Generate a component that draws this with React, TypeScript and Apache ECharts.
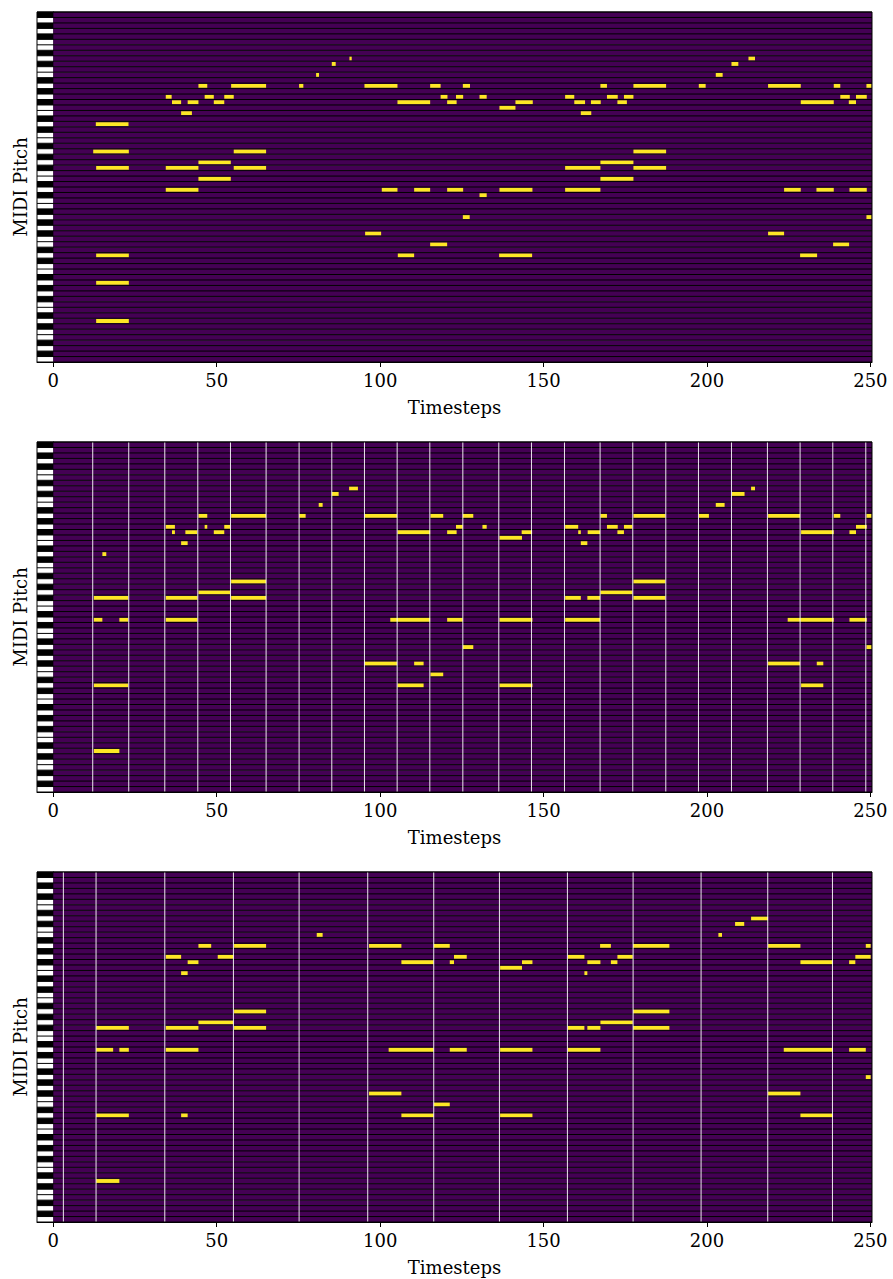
import React, { useEffect, useRef } from "react";
import * as echarts from "echarts";

// ---------- data ----------
const PITCH_LOW = 31;
const PITCH_HIGH = 94;
const X_MIN = -5;
const X_MAX = 250.5;
const X_TICKS = [0, 50, 100, 150, 200, 250];
const BLACK_PITCH_CLASSES = [1, 3, 6, 8, 10];

// [start, end, midiPitch]
const notesOriginal: number[][] = [
  [13, 23, 74], [12.2, 23.1, 69], [13.1, 23.1, 66], [13.1, 23.1, 50], [13.1, 23.1, 45], [13.1, 23.1, 38],
  [34.4, 36.2, 79], [36.3, 39.1, 78], [39.1, 42.4, 76], [41.1, 44.4, 78], [44.4, 47.1, 81], [46.3, 49.1, 79],
  [49.1, 52.3, 78], [52.3, 55.2, 79], [54.4, 65.1, 81], [34.4, 44.4, 66], [34.4, 44.4, 62], [44.4, 54.3, 67],
  [44.4, 54.3, 64], [55.2, 65.1, 69], [55.2, 65.1, 66],
  [75.2, 76.5, 81], [80.4, 81.3, 83], [85.2, 86.4, 85], [90.6, 91.3, 86],
  [95.2, 105.3, 81], [95.4, 100.3, 54], [100.5, 105.3, 62], [105.3, 115.3, 78], [105.4, 110.4, 50],
  [110.4, 115.3, 62], [115.3, 118.5, 81], [115.3, 120.5, 52], [118.5, 120.6, 79], [120.5, 123.4, 78],
  [120.5, 125.4, 62], [123.2, 125.4, 79], [125.3, 127.5, 81], [125.3, 127.4, 57], [130.4, 132.6, 79],
  [130.4, 132.6, 61], [136.5, 141.4, 77], [141.4, 146.7, 78], [136.5, 146.6, 62], [136.4, 146.5, 50],
  [156.6, 159.4, 79], [159.4, 162.7, 78], [161.4, 164.6, 76], [164.5, 167.5, 78], [167.4, 169.4, 81],
  [169.4, 172.7, 79], [172.6, 175.5, 78], [174.6, 177.5, 79], [177.5, 187.5, 81], [156.6, 167.4, 66],
  [156.6, 167.4, 62], [167.4, 177.5, 67], [167.4, 177.5, 64], [177.5, 187.5, 69], [177.5, 187.5, 66],
  [197.5, 199.6, 81], [202.7, 204.8, 83], [207.5, 209.6, 85], [212.7, 214.7, 86],
  [218.7, 228.7, 81], [218.7, 223.6, 54], [223.6, 228.7, 62], [228.7, 238.8, 78], [228.5, 233.7, 50],
  [233.5, 238.8, 62], [238.8, 240.8, 81], [238.6, 243.5, 52], [240.8, 243.7, 79], [243.4, 245.6, 78],
  [243.6, 248.9, 62], [245.6, 248.9, 79], [248.8, 250.4, 81], [248.8, 250.4, 57],
];

const notesSecond: number[][] = [
  [15, 16.2, 74], [12.4, 22.9, 66], [12.4, 15, 62], [20.2, 22.9, 62], [12.4, 22.9, 50], [12.4, 20.2, 38],
  [34.4, 37.2, 79], [36.3, 37.2, 78], [39.1, 41.1, 76], [40.4, 44, 78], [44.4, 47.1, 81], [46.3, 47.1, 79],
  [49.1, 52.3, 78], [52.3, 54.1, 79], [54.4, 65.1, 81], [54.4, 65.1, 69], [44.4, 54.1, 67], [34.4, 44.1, 66],
  [54.4, 65.1, 66], [34.4, 44.1, 62],
  [75.2, 77.2, 81], [81.2, 82.4, 83], [85.2, 87.3, 85], [90.5, 93.2, 86],
  [95.2, 105.2, 81], [115.4, 119.3, 81], [125.3, 128.5, 81], [123.2, 125.3, 79], [131.3, 132.6, 79],
  [156.6, 160.6, 79], [105.3, 115.3, 78], [120.5, 123.4, 78], [143.3, 146.5, 78], [136.5, 143.4, 77],
  [103.1, 115.3, 62], [120.5, 125.3, 62], [136.5, 146.6, 62], [125.3, 128.5, 57], [95.2, 105.2, 54],
  [110.4, 113.3, 54], [115.4, 119.3, 52], [105.3, 113.3, 50], [136.5, 146.6, 50],
  [213.5, 214.7, 86], [207.6, 211.5, 85], [202.7, 205.4, 83], [167.4, 169.4, 81], [177.5, 187.3, 81],
  [197.5, 200.6, 81], [218.7, 228.5, 81], [238.8, 240.8, 81], [248.8, 250.4, 81], [169.4, 172.7, 79],
  [174.6, 177.2, 79], [245.6, 248.9, 79], [160.6, 161.4, 78], [163.5, 167.3, 78], [172.6, 174.6, 78],
  [228.8, 238.8, 78], [243.6, 245.6, 78], [161.4, 163.4, 76], [177.5, 187.3, 69], [167.4, 177.2, 67],
  [156.6, 161.4, 66], [163.4, 167.3, 66], [177.5, 187.3, 66], [156.6, 167.3, 62], [224.7, 228.5, 62],
  [228.5, 238.8, 62], [243.6, 248.9, 62], [248.8, 250.4, 57], [218.7, 228.5, 54], [233.6, 235.6, 54],
  [228.8, 235.6, 50],
];

const notesThird: number[][] = [
  [13.1, 23.1, 66], [13.1, 18.3, 62], [20.2, 23.1, 62], [13.1, 23.1, 50], [39.1, 41.1, 50], [13.1, 20.2, 38],
  [44.4, 48.3, 81], [55.3, 65.1, 81], [34.4, 39.1, 79], [50.3, 55.1, 79], [41.1, 44.4, 78], [39.1, 41.1, 76],
  [55.3, 65.1, 69], [44.4, 55.1, 67], [34.4, 44.4, 66], [55.3, 65.1, 66], [34.4, 44.4, 62],
  [213.5, 218.7, 86], [208.6, 211.4, 85], [80.6, 82.4, 83], [203.5, 204.6, 83],
  [96.6, 106.5, 81], [116.4, 121.3, 81], [167.3, 170.6, 81], [177.4, 188.5, 81], [218.7, 228.6, 81],
  [248.6, 250.1, 81], [122.6, 126.5, 79], [157.4, 162.5, 79], [172.6, 177.3, 79], [245.4, 250.1, 79],
  [106.5, 116.4, 78], [121.3, 122.6, 78], [143.4, 146.6, 78], [163.4, 167.4, 78], [170.6, 172.6, 78],
  [228.6, 238.5, 78], [243.5, 245.4, 78], [136.7, 143.4, 77], [162.5, 163.4, 76], [177.4, 188.5, 69],
  [167.4, 177.3, 67], [157.4, 162.5, 66], [163.4, 167.4, 66], [177.4, 188.5, 66], [102.6, 116.4, 62],
  [121.3, 126.5, 62], [136.7, 146.6, 62], [157.4, 167.4, 62], [223.5, 238.5, 62], [243.5, 248.6, 62],
  [248.6, 250.1, 57], [96.6, 106.5, 54], [218.7, 228.6, 54], [116.4, 121.3, 52], [106.5, 116.4, 50],
  [136.7, 146.6, 50], [228.6, 238.5, 50],
];

const beatsOriginal: number[] = [];
const beatsSecond: number[] = [
  12.05, 23.07, 34.1, 44.2, 54.2, 65.1, 75.2, 85.2, 95.2, 105.2, 115.2, 125.3,
  136.3, 146.3, 156.4, 167.3, 177.3, 187.4, 197.4, 207.5, 218.5, 228.5, 238.5, 248.6,
];
const beatsThird: number[] = [
  3.07, 13.07, 34.1, 55.1, 75.2, 96.2, 116.4, 136.5, 157.3, 177.4, 198.2, 218.6, 238.4,
];

// ---------- layout ----------
const W = 893;
const H = 1279;
const GRID_LEFT = 37;
const GRID_RIGHT = 21;
const GRID_TOPS = [12, 442, 872];
const GRID_H = 350;
const FONT = "DejaVu Serif";
const PURPLE = "#440154";
const YELLOW = "#fde725";

const pitches: string[] = [];
for (let p = PITCH_LOW; p <= PITCH_HIGH; p++) pitches.push(String(p));

function isBlackKey(p: number) {
  return BLACK_PITCH_CLASSES.indexOf(((p % 12) + 12) % 12) >= 0;
}

const panels = [
  { notes: notesOriginal, beats: beatsOriginal },
  { notes: notesSecond, beats: beatsSecond },
  { notes: notesThird, beats: beatsThird },
];

function buildOption() {
  const grid: any[] = [];
  const xAxis: any[] = [];
  const yAxis: any[] = [];
  const series: any[] = [];

  panels.forEach((panel, gi) => {
    grid.push({ left: GRID_LEFT, right: GRID_RIGHT, top: GRID_TOPS[gi], height: GRID_H, containLabel: false });
    xAxis.push({
      type: "value",
      gridIndex: gi,
      min: X_MIN,
      max: X_MAX,
      name: "Timesteps",
      nameLocation: "middle",
      nameGap: 36,
      nameTextStyle: { fontFamily: FONT, fontSize: 18, color: "#000" },
      axisLine: { show: true, lineStyle: { color: "#000", width: 1 } },
      axisTick: { show: true, length: 5, lineStyle: { color: "#000" }, customValues: X_TICKS },
      axisLabel: { show: true, margin: 9, fontFamily: FONT, fontSize: 18, color: "#000", customValues: X_TICKS },
      splitLine: { show: false },
    });
    yAxis.push({
      type: "category",
      gridIndex: gi,
      data: pitches,
      inverse: false,
      name: "MIDI Pitch",
      nameLocation: "middle",
      nameRotate: 90,
      nameGap: 8,
      nameTextStyle: { fontFamily: FONT, fontSize: 18, color: "#000" },
      axisLine: { show: true, lineStyle: { color: "#000", width: 1 } },
      axisTick: { show: true, alignWithLabel: true, interval: 0, length: 5, lineStyle: { color: "#000" } },
      axisLabel: { show: false },
      splitLine: { show: false },
    });

    // keyboard + purple rows
    series.push({
      type: "custom",
      xAxisIndex: gi,
      yAxisIndex: gi,
      z: 1,
      silent: true,
      encode: { x: 0, y: 1 },
      data: pitches.map((p, i) => [0, i, isBlackKey(Number(p)) ? 1 : 0]),
      renderItem: (params: any, api: any) => {
        const idx = api.value(1);
        const black = api.value(2);
        const c0 = api.coord([X_MIN, idx]);
        const c1 = api.coord([0, idx]);
        const c2 = api.coord([X_MAX, idx]);
        const h = api.size([0, 1])[1];
        const top = c0[1] - h / 2;
        return {
          type: "group",
          children: [
            { type: "rect", shape: { x: c0[0], y: top, width: c1[0] - c0[0], height: h }, style: { fill: black ? "#000" : "#fff" } },
            { type: "rect", shape: { x: c1[0], y: top, width: c2[0] - c1[0], height: h }, style: { fill: PURPLE } },
          ],
        };
      },
    });

    // notes
    series.push({
      type: "custom",
      xAxisIndex: gi,
      yAxisIndex: gi,
      z: 2,
      silent: true,
      encode: { x: [0, 1], y: 2 },
      data: panel.notes.map(([s, e, p]) => [s, e, p - PITCH_LOW]),
      renderItem: (params: any, api: any) => {
        const idx = api.value(2);
        const a = api.coord([api.value(0), idx]);
        const b = api.coord([api.value(1), idx]);
        const h = api.size([0, 1])[1];
        const nh = h - 1.6;
        return {
          type: "rect",
          shape: { x: a[0], y: a[1] - nh / 2, width: b[0] - a[0], height: nh },
          style: { fill: YELLOW },
        };
      },
    });

    // row separators
    series.push({
      type: "custom",
      xAxisIndex: gi,
      yAxisIndex: gi,
      z: 3,
      silent: true,
      encode: { x: 0, y: 1 },
      data: pitches.map((p, i) => [0, i]),
      renderItem: (params: any, api: any) => {
        const idx = api.value(1);
        const c0 = api.coord([X_MIN, idx]);
        const c2 = api.coord([X_MAX, idx]);
        const h = api.size([0, 1])[1];
        const y = c0[1] - h / 2;
        return {
          type: "line",
          shape: { x1: c0[0], y1: y, x2: c2[0], y2: y },
          style: { stroke: "#000", lineWidth: 1 },
        };
      },
    });

    // beat lines
    if (panel.beats.length) {
      series.push({
        type: "custom",
        xAxisIndex: gi,
        yAxisIndex: gi,
        z: 4,
        silent: true,
        encode: { x: 0, y: 1 },
        data: panel.beats.map((b) => [b, 0]),
        renderItem: (params: any, api: any) => {
          const cs = params.coordSys;
          const x = api.coord([api.value(0), 0])[0];
          return {
            type: "line",
            shape: { x1: x, y1: cs.y, x2: x, y2: cs.y + cs.height },
            style: { stroke: "#ffffff", lineWidth: 1, opacity: 0.9 },
          };
        },
      });
    }

    // frame
    series.push({
      type: "custom",
      xAxisIndex: gi,
      yAxisIndex: gi,
      z: 5,
      silent: true,
      encode: { x: 0, y: 1 },
      data: [[0, 0]],
      renderItem: (params: any) => {
        const cs = params.coordSys;
        return {
          type: "rect",
          shape: { x: cs.x, y: cs.y, width: cs.width, height: cs.height },
          style: { fill: "none", stroke: "#000", lineWidth: 1 },
        };
      },
    });
  });

  return { animation: false, backgroundColor: "#fff", grid, xAxis, yAxis, series };
}

export default function App() {
  const ref = useRef<HTMLDivElement>(null);
  useEffect(() => {
    if (!ref.current) return;
    const chart = echarts.init(ref.current, undefined, { renderer: "svg" });
    chart.setOption(buildOption() as any);
    return () => chart.dispose();
  }, []);
  return <div ref={ref} style={{ position: "absolute", left: 0, top: 0, width: W, height: H }} />;
}
